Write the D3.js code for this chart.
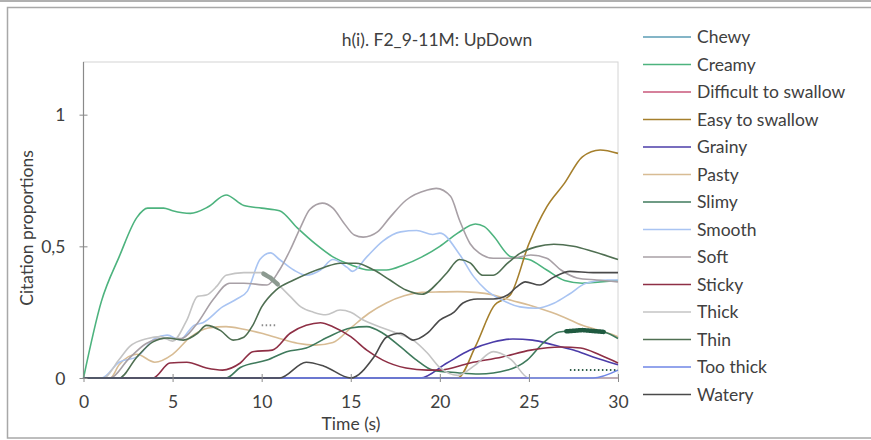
<!DOCTYPE html>
<html>
<head>
<meta charset="utf-8">
<script src="https://cdn.jsdelivr.net/npm/d3@7/dist/d3.min.js"></script>
<style>
  html, body { margin: 0; padding: 0; background: #fff; }
  svg { display: block; }
  text { font-family: Lato, "Open Sans", sans-serif; fill: #404040; }
</style>
</head>
<body>
<svg id="chart" width="871" height="440"></svg>
<script>
// Attribute names, in legend order
const attributes = ["Chewy", "Creamy", "Difficult to swallow", "Easy to swallow", "Grainy", "Pasty",
  "Slimy", "Smooth", "Soft", "Sticky", "Thick", "Thin", "Too thick", "Watery"];

const colors = ["#5b9db5", "#4db37e", "#c9577a", "#a57f2c", "#4b3ca8", "#d8bc94",
  "#3f7a5c", "#a9c4f2", "#a8a0a6", "#8e2f45", "#c4c4c4", "#4f6f52", "#6f86e6", "#4a4a4a"];

// Citation proportions over time, [time (s), proportion]
const chewy = [[0,0],[30,0]];
const creamy = [[0,0],[1,0.29],[2,0.46],[3,0.61],[3.6,0.645],[4.5,0.645],[5,0.635],[6,0.625],[7,0.65],[8,0.695],
  [9,0.655],[10,0.645],[11,0.635],[12,0.57],[13,0.51],[14,0.46],[15,0.43],[16,0.41],[17,0.41],[18,0.43],[19,0.46],
  [20,0.5],[21,0.55],[22,0.585],[22.5,0.575],[23,0.54],[24,0.46],[25,0.45],[26,0.41],[27,0.37],[28,0.36],[29,0.365],[30,0.37]];
const difficult = [[0,0],[30,0]];
const easy = [[0,0],[21,0],[22,0.12],[23,0.27],[24,0.32],[25,0.51],[26,0.65],[27,0.74],[28,0.84],[29,0.866],[30,0.853]];
const grainy = [[0,0],[18.9,0],[20.4,0.057],[21.7,0.106],[23,0.137],[24.1,0.148],[25.2,0.144],[26.4,0.125],
  [27.5,0.106],[28.6,0.08],[30,0.05]];
const pasty = [[0,0],[1.5,0],[2,0.05],[3,0.09],[4,0.06],[5,0.09],[6,0.155],[7,0.19],[8,0.195],[9,0.185],[10,0.17],
  [11,0.15],[12,0.132],[13,0.125],[14,0.135],[15,0.19],[16,0.245],[17,0.285],[18,0.312],[19,0.325],[20,0.327],
  [21,0.328],[22,0.325],[23,0.315],[24,0.295],[25,0.277],[26,0.255],[27,0.23],[28,0.2],[29,0.18],[30,0.157]];
const slimy = [[0,0],[8,0],[8.8,0.04],[10.3,0.068],[11.4,0.1],[12.5,0.114],[13.7,0.155],[15,0.19],[15.9,0.195],
  [16.8,0.17],[17.8,0.118],[18.7,0.068],[19.6,0.03],[21,0.02],[22.2,0.015],[23.8,0.03],[24.9,0.068],[25.8,0.133],
  [26.7,0.175],[28,0.182],[29.2,0.175],[30,0.15]];
const smooth = [[0,0],[1,0],[2,0.06],[3,0.08],[4,0.15],[4.7,0.163],[5.4,0.145],[6.2,0.2],[6.7,0.21],[7.8,0.27],
  [8.6,0.3],[9.2,0.33],[9.9,0.45],[10.5,0.475],[11,0.45],[11.8,0.41],[12.5,0.39],[13.3,0.41],[14,0.45],[14.8,0.42],
  [15.1,0.405],[15.9,0.46],[16.8,0.52],[17.8,0.555],[18.7,0.56],[19.6,0.545],[20,0.55],[21.1,0.47],[21.9,0.385],
  [22.6,0.334],[23.5,0.296],[24.5,0.27],[25.4,0.265],[26.4,0.284],[27.3,0.32],[28.2,0.36],[29.4,0.372],[30,0.372]];
const soft = [[0,0],[1.5,0],[2.5,0.07],[3.5,0.13],[4.5,0.15],[5.5,0.15],[6.3,0.2],[7.3,0.3],[8.2,0.36],[9,0.36],
  [10.3,0.353],[11,0.41],[11.6,0.486],[12.2,0.575],[12.7,0.64],[13.4,0.664],[14,0.645],[14.6,0.59],[15.2,0.543],
  [15.7,0.535],[16.5,0.555],[17.2,0.61],[18.1,0.675],[19.3,0.714],[19.8,0.72],[20.6,0.69],[21.1,0.6],[21.7,0.51],
  [22.2,0.475],[23,0.455],[24.1,0.455],[25.1,0.467],[26,0.455],[26.8,0.41],[27.7,0.38],[28.8,0.372],[30,0.365]];
const sticky = [[0,0],[3.9,0],[4.85,0.057],[5.8,0.06],[6.9,0.038],[7.8,0.03],[8.8,0.057],[9.5,0.1],[10.6,0.106],
  [11.6,0.17],[12.5,0.2],[13.3,0.21],[14,0.195],[15,0.157],[15.9,0.106],[16.8,0.068],[18.1,0.038],[19.3,0.03],
  [20,0.03],[21.7,0.057],[23.5,0.08],[25.1,0.106],[26.8,0.118],[27.9,0.114],[29,0.087],[30,0.057]];
const thick = [[0,0],[1.1,0],[2,0.07],[2.6,0.12],[3.6,0.15],[4.3,0.157],[5,0.14],[5.8,0.22],[6.4,0.31],[6.9,0.315],
  [7.5,0.35],[8,0.39],[9,0.4],[10,0.4],[10.5,0.38],[11,0.35],[11.6,0.31],[12.2,0.27],[12.9,0.25],[13.6,0.24],
  [14.4,0.258],[15,0.25],[15.7,0.22],[16.6,0.195],[17.6,0.17],[18.5,0.144],[19.3,0.095],[20,0.04],[21,0.01],
  [22,0.05],[23,0.1],[24,0.07],[25,0],[30,0]];
const thin = [[0,0],[2,0],[3,0.08],[3.9,0.137],[4.7,0.152],[5.6,0.144],[6.4,0.17],[6.9,0.2],[7.7,0.18],[8.4,0.144],
  [9,0.155],[9.5,0.2],[10,0.27],[10.8,0.334],[11.8,0.372],[13.5,0.42],[14.4,0.436],[15.3,0.436],[16.3,0.41],
  [17.2,0.372],[18.1,0.334],[19,0.318],[20,0.37],[20.4,0.4],[21.1,0.45],[21.7,0.437],[22.4,0.39],[23,0.39],
  [23.8,0.436],[24.5,0.473],[25.4,0.498],[26.4,0.508],[27.5,0.5],[28.6,0.48],[30,0.45]];
const tooThick = [[0,0],[28.6,0],[30,0.03]];
const watery = [[0,0],[11,0],[12.5,0.06],[13.5,0.045],[15,0],[16.3,0.08],[17,0.155],[17.8,0.17],[18.5,0.144],
  [19.3,0.17],[20,0.22],[20.8,0.25],[21.3,0.285],[22.1,0.3],[23,0.3],[23.8,0.315],[24.3,0.345],[24.8,0.365],
  [25.6,0.353],[26.4,0.383],[27.3,0.405],[28.6,0.4],[30,0.4]];

const seriesValues = [chewy, creamy, difficult, easy, grainy, pasty, slimy, smooth, soft, sticky, thick, thin, tooThick, watery];

// Highlighted stretches drawn with a heavier stroke: [attribute index, from (s), to (s)]
const heavySpans = [[10, 10.1, 10.9], [6, 27.1, 29.2]];
// Dotted reference marks: [from (s), to (s), proportion, colour]
const dottedMarks = [[10.0, 10.8, 0.2, "#8a8a8a"], [27.3, 30, 0.03, "#2f5f4a"]];

const xTicks = [0, 5, 10, 15, 20, 25, 30];
const yTicks = [0, 0.5, 1];
const yTickLabels = ["0", "0,5", "1"];
const title = "h(i). F2_9-11M: UpDown";
const xTitle = "Time (s)";
const yTitle = "Citation proportions";

const svg = d3.select("#chart");
const W = 871, H = 440;
const plot = { left: 83.5, right: 618, top: 62, bottom: 378 };
const FS = "17.5px";

// outer frame
svg.append("rect").attr("x", 0).attr("y", 0).attr("width", W).attr("height", 2).attr("fill", "#b0b0b0");
svg.append("rect").attr("x", 7.5).attr("y", 7.5).attr("width", W).attr("height", 430.5)
  .attr("fill", "#fff").attr("stroke", "#a8a8a8").attr("stroke-width", 1.5);

const x = d3.scaleLinear().domain([0, 30]).range([plot.left, plot.right]);
const y = d3.scaleLinear().domain([0, 1.2]).range([plot.bottom, plot.top]);

// plot area border
svg.append("rect").attr("x", plot.left).attr("y", plot.top)
  .attr("width", plot.right - plot.left).attr("height", plot.bottom - plot.top)
  .attr("fill", "none").attr("stroke", "#d4d4d4").attr("stroke-width", 1);

svg.append("text").attr("x", 437).attr("y", 46).attr("text-anchor", "middle")
  .style("font-size", FS).text(title);

// axis lines sit beneath the curves
svg.append("line").attr("x1", plot.left).attr("x2", plot.left).attr("y1", plot.top).attr("y2", plot.bottom)
  .attr("stroke", "#8a8a8a").attr("stroke-width", 1.2);
svg.append("line").attr("x1", plot.left).attr("x2", plot.right).attr("y1", plot.bottom).attr("y2", plot.bottom)
  .attr("stroke", "#8a8a8a").attr("stroke-width", 1.2);

// curves
const line = d3.line().x(d => x(d[0])).y(d => y(d[1])).curve(d3.curveMonotoneX);
const curves = svg.append("g");
seriesValues.forEach((vals, i) => {
  curves.append("path").attr("d", line(vals)).attr("fill", "none")
    .attr("stroke", colors[i]).attr("stroke-width", 1.6);
});

// heavy stretches follow their own curve
heavySpans.forEach(([i, a, b]) => {
  const vals = seriesValues[i];
  const pts = d3.range(a, b + 0.001, 0.05).map(t => {
    const j = Math.max(1, d3.bisector(d => d[0]).left(vals, t));
    const p0 = vals[j - 1], p1 = vals[j];
    const f = (t - p0[0]) / (p1[0] - p0[0]);
    return [t, p0[1] + f * (p1[1] - p0[1])];
  });
  curves.append("path").attr("d", line(pts))
    .attr("fill", "none").attr("stroke", i === 6 ? "#1f5a40" : "#8c9a90").attr("stroke-width", 4.5)
    .attr("stroke-linecap", "round");
});

dottedMarks.forEach(([a, b, v, c]) => {
  curves.append("line").attr("x1", x(a)).attr("x2", x(b)).attr("y1", y(v)).attr("y2", y(v))
    .attr("stroke", c).attr("stroke-width", 2).attr("stroke-dasharray", "1.5,2.5");
});

// axes ticks and labels
const xAxis = d3.axisBottom(x).tickValues(xTicks).tickSize(0).tickPadding(0);
const gx = svg.append("g").attr("transform", `translate(0,${plot.bottom})`).call(xAxis);
gx.select(".domain").remove();
gx.selectAll("text").attr("y", 18).style("font-size", FS).style("font-family", "Lato, sans-serif").attr("fill", "#404040");
gx.selectAll(".tick").append("line").attr("y1", -4).attr("y2", 4).attr("stroke", "#8a8a8a");

const yAxis = d3.axisLeft(y).tickValues(yTicks).tickFormat((d, i) => yTickLabels[i]).tickSize(0).tickPadding(0);
const gy = svg.append("g").attr("transform", `translate(${plot.left},0)`).call(yAxis);
gy.select(".domain").remove();
gy.selectAll("text").attr("x", -18).attr("dy", "0.35em").style("font-size", FS).style("font-family", "Lato, sans-serif").attr("fill", "#404040");
gy.selectAll(".tick").append("line").attr("x1", -4).attr("x2", 4).attr("stroke", "#8a8a8a");

svg.append("text").attr("x", 351).attr("y", 430).attr("text-anchor", "middle")
  .style("font-size", FS).text(xTitle);
svg.append("text").attr("transform", "translate(33,228) rotate(-90)").attr("text-anchor", "middle")
  .style("font-size", FS).text(yTitle);

// legend
const legend = svg.append("g");
attributes.forEach((name, i) => {
  const ly = 37 + i * 27.5;
  legend.append("line").attr("x1", 643).attr("x2", 691).attr("y1", ly).attr("y2", ly)
    .attr("stroke", colors[i]).attr("stroke-width", 1.6);
  legend.append("text").attr("x", 697).attr("y", ly + 6).style("font-size", FS).text(name);
});
</script>
</body>
</html>
